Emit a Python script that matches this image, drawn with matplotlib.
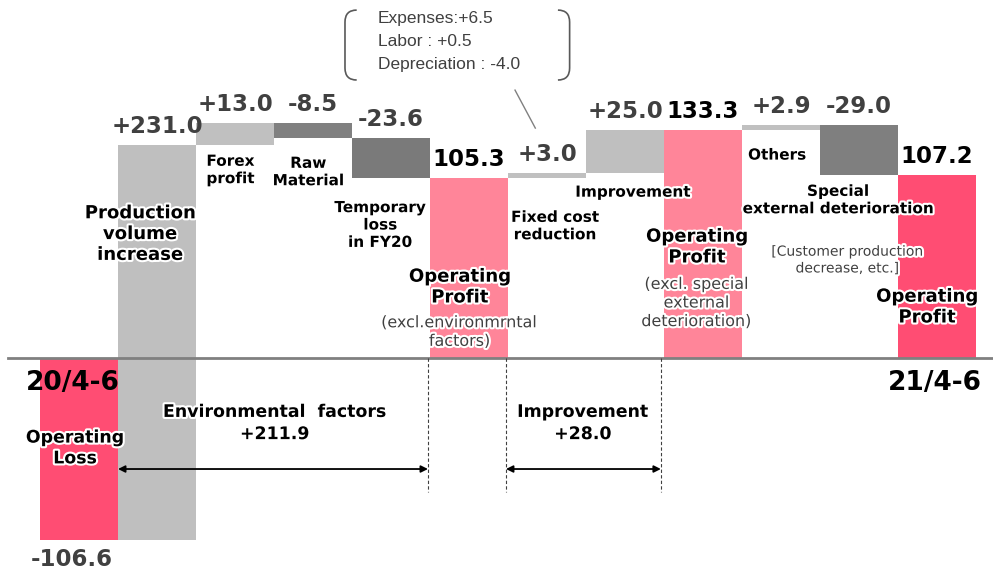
import matplotlib
matplotlib.use("Agg")
import matplotlib.pyplot as plt
import matplotlib.patheffects as pe
from matplotlib.path import Path
from matplotlib.patches import PathPatch

# Operating profit bridge, 20/4-6 -> 21/4-6 (100 million yen)
steps = ["20/4-6", "Production volume increase", "Forex profit", "Raw Material",
         "Temporary loss in FY20", "Operating Profit (excl. environmental factors)",
         "Fixed cost reduction", "Improvement",
         "Operating Profit (excl. special external deterioration)",
         "Others", "Special external deterioration", "21/4-6"]
values = [-106.6, 231.0, 13.0, -8.5, -23.6, 105.3, 3.0, 25.0, 133.3, 2.9, -29.0, 107.2]
is_total = [True, False, False, False, False, True, False, False, True, False, False, True]
fixed_cost_detail = ["Expenses:+6.5", "Labor : +0.5", "Depreciation : -4.0"]

bar_colors = ["#FF4D73", "#BFBFBF", "#C0C0C0", "#808080", "#7A7A7A", "#FF8599",
              "#C0C0C0", "#BFBFBF", "#FF8599", "#C0C0C0", "#7F7F7F", "#FF4D73"]

# stacking for the waterfall
bottoms, tops = [], []
running = 0.0
for v, tot in zip(values, is_total):
    if tot:
        bottoms.append(0.0)
        running = v
    else:
        bottoms.append(running)
        running += v
    tops.append(bottoms[-1] + v)

fig = plt.figure(figsize=(9.93, 5.74), dpi=100)
ax = fig.add_axes([0, 0, 1, 1])
ax.set_xlim(-1.013, 11.718)
ax.set_ylim(-126.3, 209.4)
ax.axis("off")

x = list(range(len(values)))
ax.bar(x, values, bottom=bottoms, width=1.0, color=bar_colors, linewidth=0, zorder=2)
ax.axhline(0, color="#808080", lw=2, zorder=3, xmin=0.008)

halo = [pe.withStroke(linewidth=3, foreground="white")]

# value labels over each bar
for i, (v, tot) in enumerate(zip(values, is_total)):
    txt = f"{v:.1f}" if tot or v < 0 else f"+{v:.1f}"
    colour = "black" if tot else "#404040"
    if v < 0 and tot:
        ax.text(i - 0.09, bottoms[i] + v - 11.5, txt, ha="center", va="center",
                fontsize=16.5, fontweight="bold", color="#404040")
    else:
        ax.text(i, max(bottoms[i], tops[i]) + 7, txt, ha="center", va="baseline",
                fontsize=16.5, fontweight="bold", color=colour)

# period labels
ax.text(-0.08, -14.6, steps[0], ha="center", va="center", fontsize=19, fontweight="bold")
ax.text(10.97, -14.6, steps[-1], ha="center", va="center", fontsize=19, fontweight="bold")

def label(xp, yp, s, size=11, weight="bold", color="black", ls=1.2):
    ax.text(xp, yp, s, ha="center", va="center", fontsize=size, fontweight=weight,
            color=color, linespacing=ls, path_effects=halo, zorder=5)

label(-0.05, -52.6, "Operating\nLoss", size=12.5)
label(0.78, 72.5, "Production\nvolume\nincrease", size=13)
label(1.94, 110, "Forex\nprofit")
label(2.94, 108.8, "Raw\nMaterial")
label(3.86, 77.8, "Temporary\nloss\nin FY20")
label(4.88, 41.5, "Operating\nProfit", size=13)
label(4.88, 15.2, "(excl.environmrntal\nfactors)", size=11.5, weight="normal",
      color="#404040", ls=1.3)
label(6.10, 77.2, "Fixed cost\nreduction")
label(7.10, 97, "Improvement")
label(7.92, 64.9, "Operating\nProfit", size=13)
label(7.92, 32.2, "(excl. special\nexternal\ndeterioration)", size=11.5, weight="normal",
      color="#404040", ls=1.3)
label(8.95, 118.7, "Others")
label(9.73, 92.4, "Special\nexternal deterioration")
label(9.85, 57.3, "[Customer production\ndecrease, etc.]", size=10, weight="normal",
      color="#404040", ls=1.25)
label(10.87, 29.8, "Operating\nProfit", size=13)

# brackets under the axis
env_sum = sum(values[1:5])
imp_sum = sum(values[6:8])
label(2.51, -38, f"Environmental  factors\n+{env_sum:.1f}", size=12.5, ls=1.3)
label(6.46, -38, f"Improvement\n+{imp_sum:.1f}", size=12.5, ls=1.3)

for xd in [4.474, 5.474, 7.46]:
    ax.plot([xd, xd], [0, -78.4], ls=(0, (3, 2)), lw=0.8, color="#404040", zorder=4)

arrow = dict(arrowstyle="<|-|>", color="black", lw=1.3, mutation_scale=10,
             shrinkA=0, shrinkB=0)
ax.annotate("", xy=(0.5, -64.9), xytext=(4.474, -64.9), arrowprops=arrow, zorder=6)
ax.annotate("", xy=(5.474, -64.9), xytext=(7.46, -64.9), arrowprops=arrow, zorder=6)

# breakdown of fixed cost reduction in a bracketed call-out
top_y, bot_y = 203.5, 162.6
cx, cy = 0.15, 7.0
for xb, d in [(3.41, 1), (6.29, -1)]:
    verts = [(xb + d * cx, top_y), (xb, top_y), (xb, top_y - cy),
             (xb, bot_y + cy), (xb, bot_y), (xb + d * cx, bot_y)]
    codes = [Path.MOVETO, Path.CURVE3, Path.CURVE3, Path.LINETO, Path.CURVE3, Path.CURVE3]
    ax.add_patch(PathPatch(Path(verts, codes), fill=False, ec="#595959", lw=1.2))
for k, line in enumerate(fixed_cost_detail):
    ax.text(3.83, 198.8 - 13.45 * k, line, ha="left", va="center", fontsize=12.5,
            family="Liberation Sans", color="#404040")
ax.plot([5.59, 5.85], [156.7, 134.5], color="#808080", lw=1)

fig.savefig("out.png", dpi=100, facecolor="white")
